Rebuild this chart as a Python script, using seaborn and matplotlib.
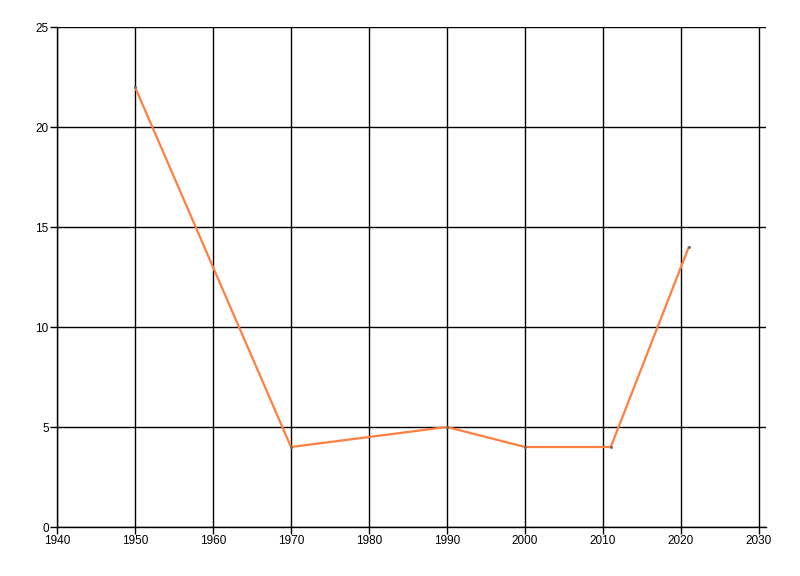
import matplotlib
matplotlib.use("Agg")
import matplotlib.pyplot as plt
import seaborn as sns
import pandas as pd

years = [1950, 1970, 1990, 2000, 2011, 2021]
values = [22, 4, 5, 4, 4, 14]
x_ticks = [1940, 1950, 1960, 1970, 1980, 1990, 2000, 2010, 2020, 2030]
y_ticks = [0, 5, 10, 15, 20, 25]

sns.set_theme(style="white")
plt.rcParams['font.family'] = ['Liberation Sans', 'DejaVu Sans']

df = pd.DataFrame({"year": years, "value": values})

fig = plt.figure(figsize=(8, 5.76), dpi=100)
ax = fig.add_axes([57/800, 1-527/576, (766-57)/800, (527-27)/576])

sns.lineplot(data=df, x="year", y="value", ax=ax, color="#FF7F40", linewidth=1.6,
             marker="o", markersize=1.3, markerfacecolor="#666666", markeredgecolor="#666666")

ax.set_xlim(1940, 2030.9)
ax.set_ylim(0, 25)
ax.set_xticks(x_ticks)
ax.set_yticks(y_ticks)
ax.set_xlabel("")
ax.set_ylabel("")
ax.grid(True, color="black", linewidth=1.0)
ax.set_axisbelow(True)
for s in ["top", "right"]:
    ax.spines[s].set_visible(False)
for s in ["left", "bottom"]:
    ax.spines[s].set_color("black")
    ax.spines[s].set_linewidth(1.0)
ax.tick_params(axis="both", which="both", length=5, width=1, color="black",
               labelsize=8.5, labelcolor="black", pad=1, direction="out")
ax.tick_params(axis="x", bottom=True)
ax.tick_params(axis="y", left=True)

fig.savefig("out.png", dpi=100, facecolor="white")
